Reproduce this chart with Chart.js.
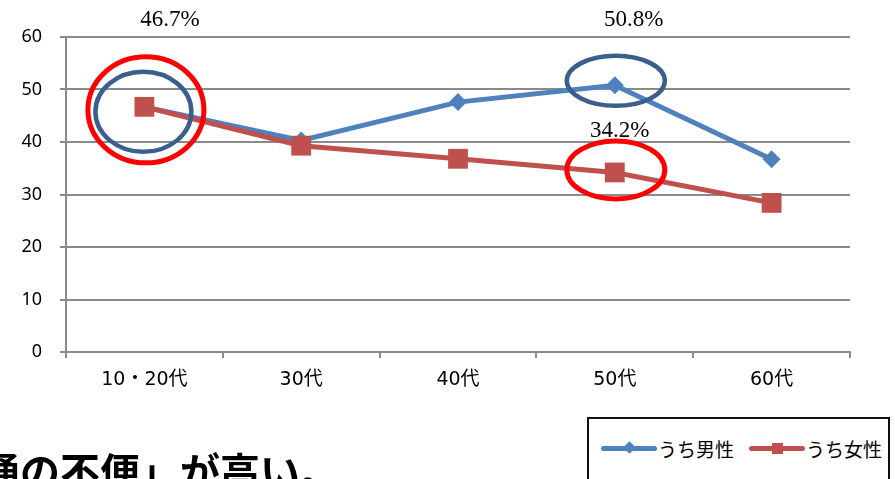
<!DOCTYPE html>
<html lang="ja">
<head>
<meta charset="utf-8">
<script src="https://cdn.jsdelivr.net/npm/chart.js@4.4.0/dist/chart.umd.min.js"></script>
<style>
  html, body { margin: 0; padding: 0; background: #fff; }
  #wrap { position: relative; width: 895px; height: 479px; overflow: hidden; }
  #chart-box { position: absolute; left: 0; top: 0; width: 895px; height: 479px; }
  .legend {
    position: absolute; left: 587px; top: 417px; width: 303px; height: 80px;
    border: 2px solid #111; box-sizing: border-box; background: #fff;
    font-family: "Noto Sans CJK JP", sans-serif; font-size: 19px; color: #000;
  }
  .legend .item { position: absolute; top: 14px; height: 30px; display: flex; align-items: center; }
  .legend .swatch { position: relative; width: 56px; height: 30px; margin-right: 1px; }
  .legend .swatch .ln { position: absolute; left: 0; top: 12.5px; width: 56px; height: 5px; border-radius: 3px; }
  .legend .swatch .mk { position: absolute; }
  .note {
    position: absolute; left: -60px; top: 450px; white-space: nowrap;
    font-family: "Noto Sans CJK JP", sans-serif; font-weight: 700; font-size: 40px; line-height: 1; color: #000;
  }
</style>
</head>
<body>
<div id="wrap">
  <div id="chart-box"><canvas id="age-chart"></canvas></div>
  <div class="legend" id="legend"></div>
  <div class="note">交通の不便」が高い。</div>
</div>
<script>
// データ
const categories = ['10・20代', '30代', '40代', '50代', '60代'];
const maleRates = [46.7, 40.3, 47.6, 50.8, 36.7];
const femaleRates = [46.7, 39.3, 36.8, 34.2, 28.4];
const yTicks = [0, 10, 20, 30, 40, 50, 60];
const seriesNames = ['うち男性', 'うち女性'];

const maleColor = '#4F81BD';
const femaleColor = '#C0504D';
const axisColor = '#8a8a8a';

// 丸で囲む注記 (dataset / index はデータ点を指す)
const circleNotes = [
  { dataset: 1, index: 0, dx: -1, dy: 5, rx: 48, ry: 40, color: '#3A5F8E', width: 4.5 },
  { dataset: 1, index: 0, dx: 1.5, dy: 3, rx: 58, ry: 53, color: '#FF0000', width: 5 },
  { dataset: 0, index: 3, dx: 1, dy: -4.5, rx: 49, ry: 25, color: '#3A5F8E', width: 4.5 },
  { dataset: 1, index: 3, dx: 1, dy: -2.5, rx: 49, ry: 29, color: '#FF0000', width: 5 }
];
const valueNotes = [
  { dataset: 1, index: 0, dx: 25.5, dy: -87 },
  { dataset: 0, index: 3, dx: 19, dy: -65 },
  { dataset: 1, index: 3, dx: 5, dy: -41 }
];

const notesPlugin = {
  id: 'notes',
  afterDatasetsDraw(chart) {
    const ctx = chart.ctx;
    circleNotes.forEach(n => {
      const pt = chart.getDatasetMeta(n.dataset).data[n.index];
      ctx.save();
      ctx.beginPath();
      ctx.ellipse(pt.x + n.dx, pt.y + n.dy, n.rx, n.ry, 0, 0, Math.PI * 2);
      ctx.strokeStyle = n.color;
      ctx.lineWidth = n.width;
      ctx.stroke();
      ctx.restore();
    });
    valueNotes.forEach(n => {
      const pt = chart.getDatasetMeta(n.dataset).data[n.index];
      const v = chart.data.datasets[n.dataset].data[n.index];
      ctx.save();
      ctx.font = '23px "Liberation Serif", serif';
      ctx.fillStyle = '#000';
      ctx.textAlign = 'center';
      ctx.textBaseline = 'middle';
      ctx.fillText(v.toFixed(1) + '%', pt.x + n.dx, pt.y + n.dy);
      ctx.restore();
    });
  }
};

new Chart(document.getElementById('age-chart'), {
  type: 'line',
  data: {
    labels: categories,
    datasets: [{
      label: seriesNames[0],
      data: maleRates,
      borderColor: maleColor,
      backgroundColor: maleColor,
      borderWidth: 5,
      pointStyle: 'rectRot',
      pointRadius: 9,
      pointBorderWidth: 0,
      tension: 0,
      order: 1
    }, {
      label: seriesNames[1],
      data: femaleRates,
      borderColor: femaleColor,
      backgroundColor: femaleColor,
      borderWidth: 5,
      pointStyle: 'rect',
      pointRadius: 14,
      pointBorderWidth: 0,
      tension: 0,
      order: 0
    }]
  },
  options: {
    responsive: true,
    maintainAspectRatio: false,
    animation: false,
    events: [],
    layout: { padding: { left: 0, right: 45, top: 37, bottom: 0 } },
    plugins: { legend: { display: false }, tooltip: { enabled: false } },
    scales: {
      x: {
        offset: true,
        grid: { offset: true, drawOnChartArea: false, drawTicks: true, tickLength: 6, color: axisColor, lineWidth: 2 },
        border: { color: axisColor, width: 2 },
        ticks: {
          color: '#000', padding: 11, maxRotation: 0, autoSkip: false,
          font: { family: '"DejaVu Sans", "Noto Sans CJK JP"', size: 19 }
        },
        afterFit(scale) { scale.height = 127; }
      },
      y: {
        min: yTicks[0],
        max: yTicks[yTicks.length - 1],
        ticks: {
          stepSize: yTicks[1] - yTicks[0], padding: 18, color: '#000',
          font: { family: '"Noto Sans"', size: 18 }
        },
        grid: { color: axisColor, lineWidth: 2, tickLength: 6 },
        border: { color: axisColor, width: 2 },
        afterFit(scale) { scale.width = 66; }
      }
    }
  },
  plugins: [notesPlugin]
});

// 凡例
const legend = document.getElementById('legend');
const legendItems = [
  { name: seriesNames[0], color: maleColor, left: 12, marker: 'diamond' },
  { name: seriesNames[1], color: femaleColor, left: 160, marker: 'square' }
];
legend.innerHTML = legendItems.map(it => {
  const mk = it.marker === 'diamond'
    ? `<div class="mk" style="left:24px;top:10px;width:9px;height:9px;background:${it.color};transform:rotate(45deg)"></div>`
    : `<div class="mk" style="left:22.5px;top:9.5px;width:11px;height:11px;background:${it.color}"></div>`;
  return `<div class="item" style="left:${it.left}px">
      <div class="swatch"><div class="ln" style="background:${it.color}"></div>${mk}</div>
      <span>${it.name}</span>
    </div>`;
}).join('');
</script>
</body>
</html>
